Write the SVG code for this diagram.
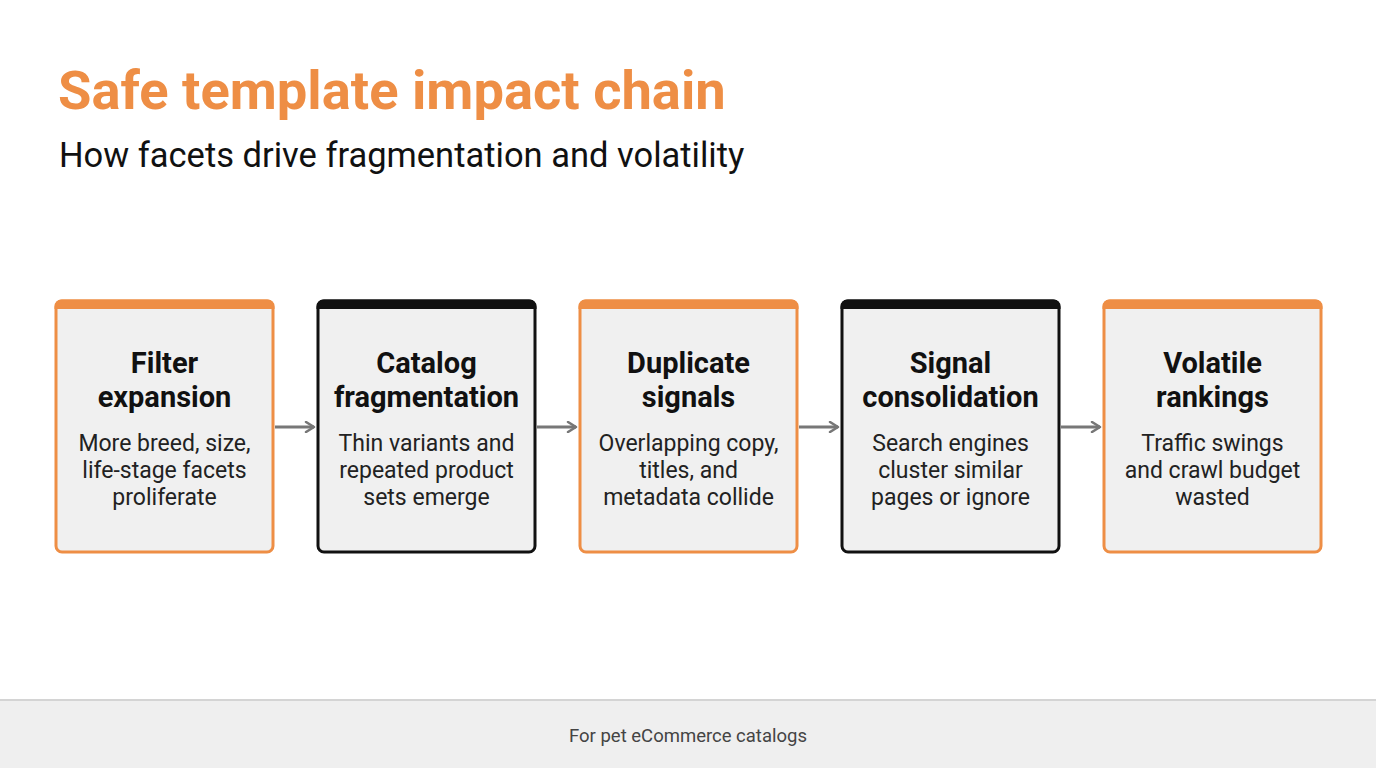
<svg xmlns="http://www.w3.org/2000/svg" width="1376" height="768" viewBox="0 0 1376 768">
<defs>
<style>
.bg{fill:#ffffff}
.title{font-family:Roboto,"Liberation Sans",sans-serif;font-weight:700;font-size:54.3px;fill:#EE8E45}
.sub{font-family:Roboto,"Liberation Sans",sans-serif;font-size:34.5px;fill:#111}
.box{fill:#f0f0f0;stroke-width:3}
.o .box{stroke:#EE8E45}
.k .box{stroke:#111}
.o .bar{fill:#EE8E45}
.k .bar{fill:#111}
.h{font-family:Roboto,"Liberation Sans",sans-serif;font-weight:700;font-size:29px;fill:#111;text-anchor:middle}
.b{font-family:Roboto,"Liberation Sans",sans-serif;font-size:23px;fill:#222;text-anchor:middle}
.conn line{stroke:#777;stroke-width:3}
.foot{font-family:Roboto,"Liberation Sans",sans-serif;font-size:18.5px;fill:#444;text-anchor:middle}
</style>
<marker id="ah" viewBox="0 0 12 12" refX="10" refY="6" markerWidth="12" markerHeight="12" markerUnits="userSpaceOnUse" orient="auto">
<path d="M2,1 L10,6 L2,11" fill="none" stroke="#777" stroke-width="2.5" stroke-linecap="round" stroke-linejoin="round"/>
</marker>
</defs>
<rect class="bg" x="0" y="0" width="1376" height="768"/>
<text class="title" x="58" y="109">Safe template impact chain</text>
<text class="sub" x="59" y="167">How facets drive fragmentation and volatility</text>

<g id="n1" class="o">
<rect class="box" x="56" y="301" width="217" height="251" rx="6"/>
<path class="bar" d="M54.5,309 V306 a6.5,6.5 0 0 1 6.5,-6.5 H268 a6.5,6.5 0 0 1 6.5,6.5 V309 Z"/>
<text class="h" x="164.5" y="373">Filter</text>
<text class="h" x="164.5" y="407">expansion</text>
<text class="b" x="164.5" y="451">More breed, size,</text>
<text class="b" x="164.5" y="478">life-stage facets</text>
<text class="b" x="164.5" y="505">proliferate</text>
</g>
<g id="n2" class="k">
<rect class="box" x="318" y="301" width="217" height="251" rx="6"/>
<path class="bar" d="M316.5,309 V306 a6.5,6.5 0 0 1 6.5,-6.5 H530 a6.5,6.5 0 0 1 6.5,6.5 V309 Z"/>
<text class="h" x="426.5" y="373">Catalog</text>
<text class="h" x="426.5" y="407">fragmentation</text>
<text class="b" x="426.5" y="451">Thin variants and</text>
<text class="b" x="426.5" y="478">repeated product</text>
<text class="b" x="426.5" y="505">sets emerge</text>
</g>
<g id="n3" class="o">
<rect class="box" x="580" y="301" width="217" height="251" rx="6"/>
<path class="bar" d="M578.5,309 V306 a6.5,6.5 0 0 1 6.5,-6.5 H792 a6.5,6.5 0 0 1 6.5,6.5 V309 Z"/>
<text class="h" x="688.5" y="373">Duplicate</text>
<text class="h" x="688.5" y="407">signals</text>
<text class="b" x="688.5" y="451">Overlapping copy,</text>
<text class="b" x="688.5" y="478">titles, and</text>
<text class="b" x="688.5" y="505">metadata collide</text>
</g>
<g id="n4" class="k">
<rect class="box" x="842" y="301" width="217" height="251" rx="6"/>
<path class="bar" d="M840.5,309 V306 a6.5,6.5 0 0 1 6.5,-6.5 H1054 a6.5,6.5 0 0 1 6.5,6.5 V309 Z"/>
<text class="h" x="950.5" y="373">Signal</text>
<text class="h" x="950.5" y="407">consolidation</text>
<text class="b" x="950.5" y="451">Search engines</text>
<text class="b" x="950.5" y="478">cluster similar</text>
<text class="b" x="950.5" y="505">pages or ignore</text>
</g>
<g id="n5" class="o">
<rect class="box" x="1104" y="301" width="217" height="251" rx="6"/>
<path class="bar" d="M1102.5,309 V306 a6.5,6.5 0 0 1 6.5,-6.5 H1316 a6.5,6.5 0 0 1 6.5,6.5 V309 Z"/>
<text class="h" x="1212.5" y="373">Volatile</text>
<text class="h" x="1212.5" y="407">rankings</text>
<text class="b" x="1212.5" y="451">Traffic swings</text>
<text class="b" x="1212.5" y="478">and crawl budget</text>
<text class="b" x="1212.5" y="505">wasted</text>
</g>

<g id="connectors" class="conn">
<line x1="275" y1="427" x2="314" y2="427" marker-end="url(#ah)"/>
<line x1="537" y1="427" x2="576" y2="427" marker-end="url(#ah)"/>
<line x1="799" y1="427" x2="838" y2="427" marker-end="url(#ah)"/>
<line x1="1061" y1="427" x2="1100" y2="427" marker-end="url(#ah)"/>
</g>

<g id="footer">
<rect x="0" y="700" width="1376" height="68" fill="#efefef"/>
<rect x="0" y="699" width="1376" height="2" fill="#d4d4d4"/>
<text class="foot" x="688" y="742">For pet eCommerce catalogs</text>
</g>
</svg>
